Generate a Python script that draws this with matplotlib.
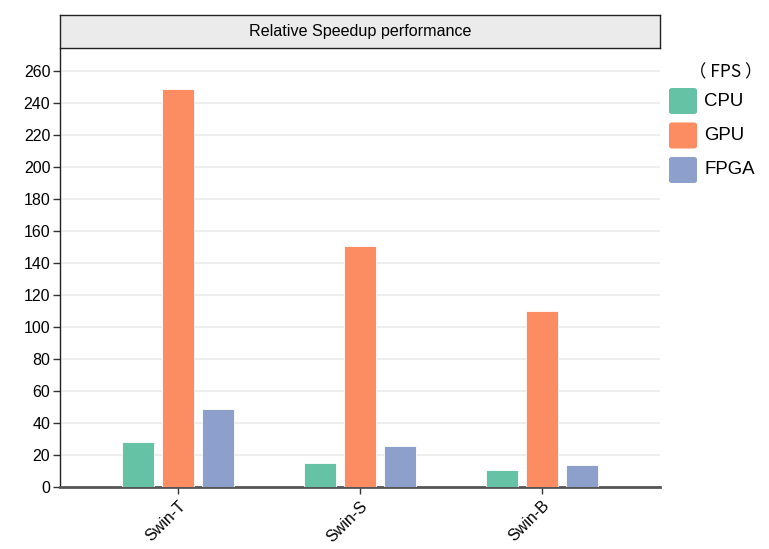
import matplotlib.pyplot as plt
from matplotlib.patches import FancyBboxPatch
import numpy as np

plt.rcParams['font.family'] = ['Liberation Sans', 'Noto Sans CJK SC', 'DejaVu Sans']

models = ['Swin-T', 'Swin-S', 'Swin-B']
series = ['CPU', 'GPU', 'FPGA']
cpu_fps = [28, 15.3, 10.8]
gpu_fps = [249, 150.5, 109.8]
fpga_fps = [48.5, 25.4, 13.5]
colors = ['#66c2a5', '#fc8d62', '#8da0cb']
yticks = list(range(0, 261, 20))

W, H = 769, 549
fig = plt.figure(figsize=(W / 100, H / 100), dpi=100)

# main plot area (pixel box 60..660 x 49..487)
ax = fig.add_axes([60 / W, 1 - 487 / H, 600 / W, (487 - 49) / H])
x = np.arange(len(models))
width = 0.176
offset = 0.22
for i, (vals, c) in enumerate(zip([cpu_fps, gpu_fps, fpga_fps], colors)):
    ax.bar(x + (i - 1) * offset, vals, width, color=c, edgecolor='white',
           linewidth=0.6, zorder=3)

ax.set_xlim(-0.648, 2.648)
ax.set_ylim(0, 273.8)
ax.set_yticks(yticks)
ax.set_xticks(x)
ax.set_xticklabels(models, rotation=45, ha='right', rotation_mode='anchor',
                   fontsize=11.5)
ax.tick_params(axis='y', labelsize=11.5, length=5, width=1, color='#333333', pad=2)
ax.tick_params(axis='x', length=5, width=1, color='#333333', pad=3)
ax.grid(axis='y', color='#ebebeb', linewidth=1.2, zorder=0)
for s in ['top', 'right']:
    ax.spines[s].set_visible(False)
ax.spines['left'].set_color('#222222')
ax.spines['left'].set_linewidth(1)
ax.spines['bottom'].set_color('#555555')
ax.spines['bottom'].set_linewidth(2)

# title strip
tax = fig.add_axes([60 / W, 1 - 48 / H, 600 / W, 33 / H])
tax.set_facecolor('#ebebeb')
tax.set_xticks([])
tax.set_yticks([])
for s in tax.spines.values():
    s.set_color('#222222')
    s.set_linewidth(1)
tax.text(0.5, 0.5, 'Relative Speedup performance', ha='center', va='center',
         fontsize=11.6, transform=tax.transAxes)

# legend
fig.text(726 / W, 1 - 72 / H, '（ FPS ）', ha='center', va='center', fontsize=12.5,
         family=['Noto Sans CJK SC', 'DejaVu Sans'])
for i, (name, c) in enumerate(zip(series, colors)):
    yc = 101 + i * 34.5
    box = FancyBboxPatch(((669) / W, 1 - (yc + 13) / H), 28 / W, 26 / H,
                         boxstyle='round,pad=0,rounding_size=0.004',
                         transform=fig.transFigure, facecolor=c, edgecolor='none')
    fig.patches.append(box)
    fig.text(704 / W, 1 - yc / H, name, ha='left', va='center', fontsize=13.4)

fig.savefig('out.png', dpi=100)
